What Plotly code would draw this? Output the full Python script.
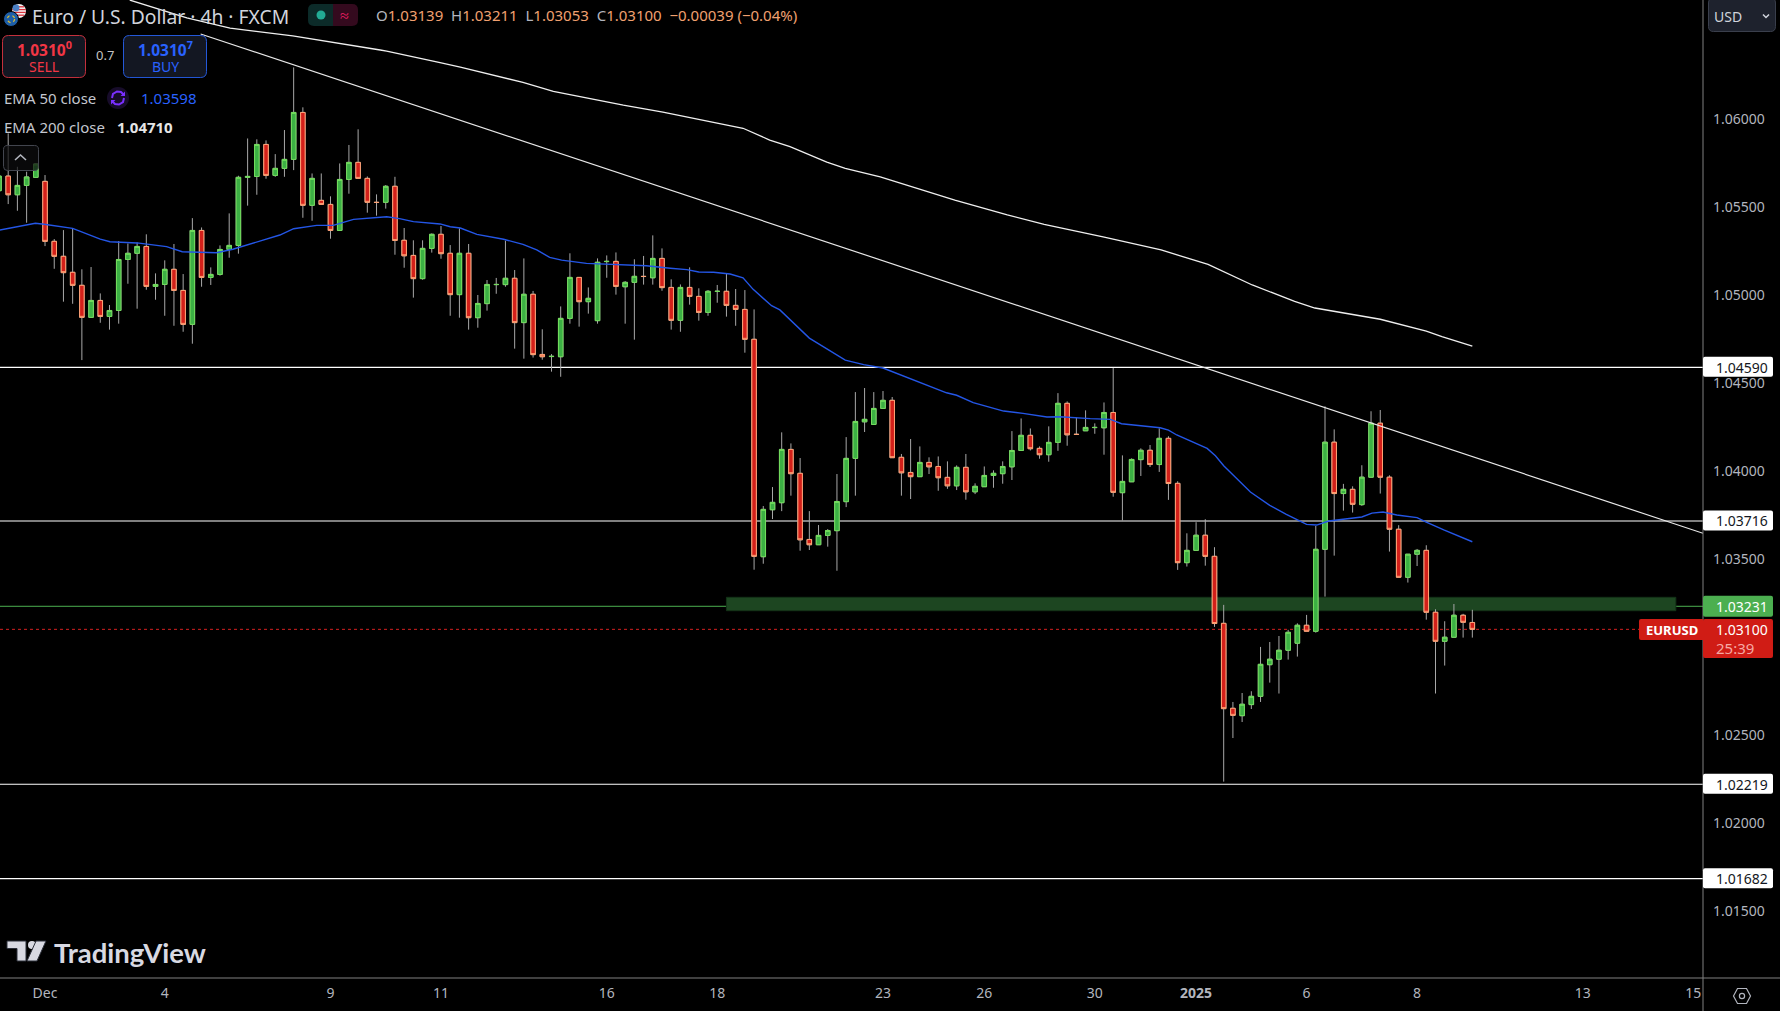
import plotly.graph_objects as go

# ---------- chart data (EUR/USD 4h candles) ----------
opens = [1.05594,1.05677,1.05571,1.05624,1.05670,1.05647,1.05306,1.05221,1.05130,1.05056,
1.04874,1.04970,1.04879,1.04913,1.05203,1.05238,1.05277,1.05050,1.05061,1.05147,
1.05027,1.04834,1.05368,1.05101,1.05118,1.05260,1.05283,1.05670,1.05675,1.05857,
1.05681,1.05721,1.05772,1.06039,1.05511,1.05539,1.05516,1.05368,1.05658,1.05755,
1.05664,1.05528,1.05528,1.05619,1.05312,1.05226,1.05094,1.05266,1.05346,1.05238,
1.05003,1.05238,1.04872,1.04952,1.05060,1.05060,1.05096,1.04844,1.05005,1.04663,
1.04651,1.04650,1.04868,1.05101,1.04963,1.04855,1.05191,1.05192,1.05048,1.05073,
1.05107,1.05099,1.05209,1.05044,1.04857,1.05044,1.04993,1.04902,1.05021,1.05022,
1.04942,1.04919,1.04749,1.03513,1.03780,1.03820,1.04123,1.03987,1.03611,1.03581,
1.03634,1.03661,1.03826,1.04072,1.04280,1.04265,1.04356,1.04402,1.04078,1.03992,
1.03968,1.04049,1.04026,1.03964,1.03916,1.04021,1.03882,1.03911,1.03975,1.03985,
1.04024,1.04117,1.04203,1.04129,1.04093,1.04163,1.04385,1.04209,1.04229,1.04247,
1.04246,1.04333,1.03877,1.03939,1.04065,1.04118,1.04037,1.04186,1.03930,1.03479,
1.03549,1.03635,1.03515,1.03134,1.02651,1.02609,1.02672,1.02719,1.02899,1.02930,
1.02981,1.03021,1.03123,1.03089,1.03555,1.04164,1.03872,1.03896,1.03809,1.03965,
1.04272,1.03965,1.03669,1.03396,1.03527,1.03549,1.03197,1.03032,1.03055,1.03180,1.03139]
highs = [1.05711,1.05920,1.05730,1.05702,1.05749,1.05683,1.05319,1.05370,1.05380,1.05147,
1.05160,1.05010,1.04944,1.05308,1.05294,1.05300,1.05346,1.05124,1.05198,1.05291,
1.05120,1.05438,1.05385,1.05158,1.05283,1.05465,1.05679,1.05891,1.05886,1.05880,
1.05802,1.05939,1.06295,1.06068,1.05692,1.05692,1.05562,1.05749,1.05854,1.05943,
1.05675,1.05573,1.05626,1.05673,1.05382,1.05312,1.05312,1.05351,1.05393,1.05285,
1.05380,1.05291,1.05001,1.05086,1.05098,1.05310,1.05143,1.05209,1.05024,1.04806,
1.04665,1.04936,1.05238,1.05101,1.05044,1.05209,1.05226,1.05243,1.05080,1.05204,
1.05223,1.05340,1.05266,1.05090,1.05061,1.05158,1.05039,1.05029,1.05058,1.05124,
1.05035,1.05029,1.04919,1.03801,1.03909,1.04220,1.04157,1.04074,1.03772,1.03693,
1.03670,1.03983,1.04193,1.04449,1.04472,1.04449,1.04455,1.04421,1.04097,1.04182,
1.04140,1.04078,1.04083,1.04055,1.04032,1.04097,1.03930,1.04026,1.04004,1.04055,
1.04227,1.04299,1.04242,1.04140,1.04254,1.04443,1.04396,1.04305,1.04345,1.04271,
1.04390,1.04586,1.04089,1.04072,1.04129,1.04148,1.04243,1.04198,1.03942,1.03646,
1.03709,1.03726,1.03567,1.03239,1.02687,1.02738,1.02748,1.03000,1.03028,1.03062,
1.03097,1.03134,1.03182,1.03688,1.04368,1.04237,1.03927,1.03913,1.04033,1.04340,
1.04347,1.03976,1.03692,1.03527,1.03557,1.03578,1.03214,1.03146,1.03244,1.03188,1.03211]
lows = [1.05541,1.05518,1.05480,1.05412,1.05670,1.05279,1.05150,1.04963,1.04951,1.04631,
1.04874,1.04843,1.04804,1.04838,1.05065,1.04923,1.05031,1.04974,1.04883,1.04826,
1.04792,1.04724,1.05048,1.05058,1.05111,1.05213,1.05236,1.05509,1.05571,1.05662,
1.05673,1.05673,1.05711,1.05440,1.05423,1.05516,1.05321,1.05368,1.05577,1.05664,
1.05469,1.05452,1.05492,1.05230,1.05156,1.04986,1.05088,1.05242,1.05207,1.04883,
1.04872,1.04804,1.04815,1.04912,1.05008,1.05048,1.04696,1.04639,1.04645,1.04633,
1.04565,1.04536,1.04838,1.04821,1.04895,1.04838,1.05099,1.05003,1.04838,1.04747,
1.05060,1.05060,1.05025,1.04804,1.04792,1.04946,1.04855,1.04883,1.04957,1.04878,
1.04826,1.04673,1.03439,1.03473,1.03727,1.03772,1.03860,1.03547,1.03551,1.03581,
1.03570,1.03433,1.03795,1.03860,1.04222,1.04265,1.04356,1.04076,1.03860,1.03841,
1.03968,1.03983,1.03888,1.03899,1.03892,1.03837,1.03869,1.03911,1.03905,1.03928,
1.03949,1.04117,1.04117,1.04070,1.04053,1.04115,1.04144,1.04206,1.04229,1.04212,
1.04093,1.03854,1.03719,1.03939,1.03972,1.04023,1.03995,1.03836,1.03438,1.03457,
1.03549,1.03462,1.03114,1.02234,1.02482,1.02573,1.02647,1.02687,1.02797,1.02735,
1.02928,1.02945,1.03089,1.03081,1.03286,1.03519,1.03775,1.03764,1.03802,1.03965,
1.03872,1.03542,1.03396,1.03366,1.03460,1.03155,1.02735,1.02894,1.03055,1.03053,1.03053]
closes = [1.05677,1.05571,1.05624,1.05672,1.05746,1.05306,1.05221,1.05128,1.05056,1.04874,
1.04970,1.04879,1.04913,1.05203,1.05238,1.05277,1.05050,1.05061,1.05147,1.05027,
1.04834,1.05368,1.05101,1.05118,1.05260,1.05283,1.05670,1.05675,1.05857,1.05681,
1.05721,1.05772,1.06039,1.05511,1.05664,1.05516,1.05368,1.05658,1.05755,1.05664,
1.05528,1.05527,1.05619,1.05311,1.05224,1.05094,1.05266,1.05346,1.05236,1.05003,
1.05238,1.04872,1.04953,1.05061,1.05061,1.05096,1.04844,1.05005,1.04662,1.04650,
1.04652,1.04868,1.05101,1.04963,1.04982,1.05187,1.05192,1.05050,1.05073,1.05107,
1.05106,1.05209,1.05043,1.04857,1.05044,1.04993,1.04902,1.05022,1.05022,1.04942,
1.04919,1.04749,1.03515,1.03782,1.03822,1.04123,1.03985,1.03609,1.03581,1.03634,
1.03662,1.03827,1.04072,1.04282,1.04294,1.04356,1.04402,1.04076,1.03990,1.03968,
1.04049,1.04024,1.03962,1.03916,1.04021,1.03882,1.03913,1.03975,1.03987,1.04026,
1.04117,1.04203,1.04127,1.04093,1.04163,1.04385,1.04206,1.04208,1.04248,1.04248,
1.04333,1.03879,1.03941,1.04066,1.04118,1.04037,1.04186,1.03929,1.03479,1.03549,
1.03635,1.03515,1.03133,1.02649,1.02611,1.02674,1.02719,1.02901,1.02930,1.02981,
1.03083,1.03123,1.03089,1.03555,1.04164,1.03872,1.03896,1.03811,1.03965,1.04272,
1.03965,1.03669,1.03396,1.03527,1.03549,1.03197,1.03032,1.03055,1.03180,1.03140,1.03100]
bars = list(range(len(closes)))

ema50_bar = [0,3.95,4.9,8,11,12.05,15,18.2,19.9,23.6,25.4,28,30.5,32,34.5,36.3,38.5,42.1,43.5,45,47.9,49,50.1,51.9,54.8,56.9,58.4,59.8,61.1,63.8,66.7,70.3,72.9,74.7,76,77.6,79.4,80.8,81.9,83.9,84.8,88,91.9,93.9,96,97.9,100.7,102.9,104,105.8,109.1,111.2,113.8,115.2,118.5,120.7,121.9,123.9,125,126.1,127,127.9,131.2,132.1,133,135.9,138,139.8,142,143.1,144.4,146.7,148,149.1,150.3,151.8,154,155,156.9,160]
ema50 = [1.05369,1.05409,1.05403,1.05380,1.05319,1.05304,1.05297,1.05276,1.05247,1.05241,1.05261,1.05301,1.05342,1.05378,1.05397,1.05397,1.05431,1.05446,1.05435,1.05418,1.05405,1.05389,1.05382,1.05346,1.05318,1.05289,1.05257,1.05215,1.05199,1.05181,1.05175,1.05167,1.05153,1.05145,1.05132,1.05130,1.05120,1.05099,1.05033,1.04940,1.04916,1.04756,1.04631,1.04605,1.04586,1.04546,1.04489,1.04445,1.04431,1.04389,1.04341,1.04328,1.04307,1.04309,1.04298,1.04294,1.04269,1.04258,1.04249,1.04246,1.04233,1.04205,1.04129,1.04087,1.04030,1.03881,1.03805,1.03754,1.03697,1.03693,1.03716,1.03729,1.03739,1.03761,1.03767,1.03750,1.03735,1.03710,1.03665,1.03598]
ema200_bar = [14.2,20.4,25.1,31.9,41.4,42.1,47.9,50.1,56.9,60.2,67.8,72.1,80.8,83.7,85.9,89.9,91.9,95.7,103.8,109.5,113.5,119.9,126.2,131.3,136.1,140.7,142.9,150,155,156.7,160]
ema200 = [1.06678,1.06576,1.06519,1.06474,1.06394,1.06388,1.06322,1.06296,1.06210,1.06159,1.06080,1.06041,1.05949,1.05882,1.05844,1.05757,1.05721,1.05672,1.05541,1.05456,1.05403,1.05332,1.05257,1.05175,1.05058,1.04965,1.04927,1.04863,1.04796,1.04764,1.04710]
trend_bar = [21.9,185.05]
trend_price = [1.06485,1.03646]

level_prices = [1.04590,1.03716,1.02219,1.01682]
level_labels = ["1.04590","1.03716","1.02219","1.01682"]
support_price = 1.03231
zone_bars = [79,182.1]
zone_prices = [1.03206,1.03282]
last_price = 1.03100

y_ticks = [1.015,1.02,1.025,1.035,1.04,1.045,1.05,1.055,1.06]
y_labels = ["1.01500","1.02000","1.02500","1.03500","1.04000","1.04500","1.05000","1.05500","1.06000"]
x_ticks = [5,18,36,48,66,78,96,107,119,130,142,154,172,184]
x_labels = ["Dec","4","9","11","16","18","23","26","30","<b>2025</b>","6","8","13","15"]

# ---------- layout geometry ----------
W, H = 1780, 1011
PW, PH = 1703, 978
FONT = "Noto Sans"
shapes, notes = [], []

def px(x): return x / PW
def py(y): return 1 - y / PH

def path(points, fill=None, line=None, lw=1, close=True, layer="above"):
    d = "M%.5f,%.5f" % (px(points[0][0]), py(points[0][1]))
    for p in points[1:]:
        d += " L%.5f,%.5f" % (px(p[0]), py(p[1]))
    if close:
        d += " Z"
    shapes.append(dict(type="path", xref="paper", yref="paper", path=d, layer=layer,
                       fillcolor=fill if fill else "rgba(0,0,0,0)",
                       line=dict(color=line if line else "rgba(0,0,0,0)", width=lw if line else 0)))

def rrect(x0, y0, x1, y1, r, fill, line=None, lw=1, sides="all"):
    X0, X1, Y0, Y1 = px(x0), px(x1), py(y0), py(y1)
    rx, ry = r / PW, r / PH
    rl = rx if sides in ("all", "left") else 0
    rr = rx if sides in ("all", "right") else 0
    rly, rry = (ry if rl else 0), (ry if rr else 0)
    d = (f"M{X0+rl:.5f},{Y0:.5f} L{X1-rr:.5f},{Y0:.5f} Q{X1:.5f},{Y0:.5f} {X1:.5f},{Y0-rry:.5f} "
         f"L{X1:.5f},{Y1+rry:.5f} Q{X1:.5f},{Y1:.5f} {X1-rr:.5f},{Y1:.5f} L{X0+rl:.5f},{Y1:.5f} "
         f"Q{X0:.5f},{Y1:.5f} {X0:.5f},{Y1+rly:.5f} L{X0:.5f},{Y0-rly:.5f} Q{X0:.5f},{Y0:.5f} {X0+rl:.5f},{Y0:.5f} Z")
    shapes.append(dict(type="path", xref="paper", yref="paper", path=d, layer="above", fillcolor=fill,
                       line=dict(color=line if line else "rgba(0,0,0,0)", width=lw if line else 0)))

def circle(cx, cy, r, fill, line=None, lw=1, dash=None):
    ln = dict(color=line if line else "rgba(0,0,0,0)", width=lw if line else 0)
    if dash:
        ln["dash"] = dash
    shapes.append(dict(type="circle", xref="paper", yref="paper", layer="above",
                       x0=px(cx - r), x1=px(cx + r), y0=py(cy + r), y1=py(cy - r),
                       fillcolor=fill, line=ln))

def txt(x, y, s, size=14, color="#d1d4dc", anchor="left", family=FONT):
    notes.append(dict(xref="paper", yref="paper", x=px(x), y=py(y), text=s, showarrow=False,
                      xanchor=anchor, yanchor="middle", borderpad=0,
                      font=dict(size=size, color=color, family=family)))

# ---------- horizontal levels and support zone (behind the candles) ----------
for p in level_prices:
    shapes.append(dict(type="line", xref="paper", yref="y", x0=0, x1=1, y0=p, y1=p, layer="below",
                       line=dict(color="#ffffff", width=1.2)))
shapes.append(dict(type="rect", xref="x", yref="y", x0=zone_bars[0], x1=zone_bars[1], y0=zone_prices[0], y1=zone_prices[1],
                   layer="below", fillcolor="#1d4621", line=dict(color="#143318", width=1)))
shapes.append(dict(type="line", xref="paper", yref="y", x0=0, x1=1, y0=support_price, y1=support_price, layer="below",
                   line=dict(color="#4caf50", width=1)))
shapes.append(dict(type="line", xref="paper", yref="y", x0=0, x1=1639/PW, y0=last_price, y1=last_price, layer="below",
                   line=dict(color="#d42020", width=1, dash="dot")))

# ---------- scale frame running to the window edges ----------
path([(1703, 0), (1703, 1011)], line="#808080", lw=1, close=False)
path([(0, 978), (1780, 978)], line="#808080", lw=1, close=False)

# ---------- price-scale tags ----------
def ptop(p): return (1.066783 - p) * 17587
for p, lab in zip(level_prices, level_labels):
    yc = ptop(p) - 0.5
    rrect(1703, yc - 10, 1773, yc + 10, 2, "#ffffff")
    txt(1715, yc + 0.5, lab, 14, "#131722")
yc = ptop(support_price)
rrect(1703, yc - 10.5, 1773, yc + 10.5, 2, "#4caf50")
txt(1715, yc + 0.5, "1.03231", 14, "#ffffff")
rrect(1703, 619, 1773, 658, 2, "#d01c15")
txt(1715, 629.5, "1.03100", 14, "#ffffff")
txt(1715, 648, "25:39", 15, "#f6a9a4")
rrect(1639, 619, 1703, 640, 2, "#d01c15", sides="left")
txt(1645, 630, "<b>EURUSD</b>", 13, "#ffffff")

# ---------- legend block ----------
circle(19, 11, 7, "#f4f4f4")
for dy, half in ((-4.2, 5.2), (-1.4, 6.8), (1.4, 6.8), (4.2, 5.2)):
    path([(19 - half, 11 + dy), (19 + half, 11 + dy)], line="#d8323c", lw=1.3, close=False)
circle(16, 8, 3.4, "#4a7fc4")
circle(11, 19, 7.5, "#1f5fa8", line="#000000", lw=1)
circle(11, 19, 3.6, "rgba(0,0,0,0)", line="#e6c228", lw=1.2, dash="dot")
txt(31, 16, "Euro / U.S. Dollar · 4h · FXCM", 19.3, "#d1d4dc")

rrect(308, 4, 333, 26, 6, "#0c2b29", sides="left")
rrect(333, 4, 358, 26, 6, "#340a1e", sides="right")
circle(321, 15, 4.5, "#22ab94")
txt(344.5, 15, "≈", 16, "#e91e63", "center")

G = "#b2b5be"
O = "#f0a070"
SP = "&nbsp;&nbsp;"
ohlc = (f'<span style="color:{G}">O</span>1.03139{SP}<span style="color:{G}">H</span>1.03211{SP}'
        f'<span style="color:{G}">L</span>1.03053{SP}<span style="color:{G}">C</span>1.03100{SP}−0.00039 (−0.04%)')
txt(375, 15, ohlc, 15, O)

rrect(2.5, 35.5, 85.5, 77.5, 6, "#131722", line="#c4303c", lw=1)
rrect(123.5, 35.5, 206.5, 77.5, 6, "#131722", line="#2458d8", lw=1)
txt(44, 49, "<b>1.0310<sup>0</sup></b>", 15.5, "#f23645", "center")
txt(44, 66, "SELL", 14, "#f23645", "center")
txt(105, 55, "0.7", 13, "#c4c4c4", "center")
txt(165, 49, "<b>1.0310<sup>7</sup></b>", 15.5, "#2962ff", "center")
txt(165, 66, "BUY", 14, "#2962ff", "center")

txt(3, 98, "EMA 50 close", 15, "#c4c7cf")
circle(118, 98, 11, "#170c2a")
path([(112, 98), (113, 94), (117, 91.5), (121, 92), (124, 95)], line="#7a2fff", lw=2, close=False)
path([(124, 98), (123, 102), (119, 104.5), (115, 104), (112, 101)], line="#7a2fff", lw=2, close=False)
path([(125, 91.5), (125, 96), (120.5, 96)], fill="#7a2fff")
path([(111, 104.5), (111, 100), (115.5, 100)], fill="#7a2fff")
txt(140, 98, "1.03598", 15, "#2962ff")
txt(3, 127, "EMA 200 close", 15, "#c4c7cf")
txt(116, 127, "<b>1.04710</b>", 15, "#e6e6e6")

rrect(3.5, 145.5, 38.5, 170.5, 4, "rgba(12,12,14,0.72)", line="#43464f", lw=1)
path([(15, 160), (20.5, 155), (26, 160)], line="#b2b5be", lw=1.6, close=False)

# ---------- currency menu, settings icon ----------
rrect(1708.5, -2, 1775.5, 31.5, 5, "#1e222d", line="#3a3f4c", lw=1)
txt(1713, 16, "USD", 14, "#d1d4dc")
path([(1763, 14.5), (1766, 17.5), (1769, 14.5)], line="#d1d4dc", lw=1.5, close=False)
path([(1733.5, 996), (1737.5, 988.5), (1746.5, 988.5), (1750.5, 996), (1746.5, 1003.5), (1737.5, 1003.5)], line="#b2b5be", lw=1.2)
circle(1742, 996, 2.6, "rgba(0,0,0,0)", line="#b2b5be", lw=1.2)

# ---------- TradingView mark ----------
MARK = "#d8d9e2"
path([(7, 941), (26, 941), (26, 961), (17, 961), (17, 948.5), (7, 948.5)], fill=MARK, line="#2a2e39", lw=1)
circle(32, 945, 4, MARK)
path([(36, 941), (46, 941), (37, 961), (27, 961)], fill=MARK, line="#2a2e39", lw=1)
txt(53, 952, "<b>TradingView</b>", 27.5, MARK, family="Lato")

# ---------- traces ----------
fig = go.Figure()
fig.add_trace(go.Scatter(x=ema50_bar, y=ema50, mode="lines", line=dict(color="#2456e6", width=1.4), hoverinfo="skip"))
fig.add_trace(go.Scatter(x=ema200_bar, y=ema200, mode="lines", line=dict(color="#efefef", width=1.3), hoverinfo="skip"))
fig.add_trace(go.Scatter(x=trend_bar, y=trend_price, mode="lines", line=dict(color="#e8e8e8", width=1.2), hoverinfo="skip"))
fig.add_trace(go.Candlestick(x=bars, open=opens, high=highs, low=lows, close=closes,
                             increasing=dict(line=dict(color="#a8a8a8", width=1), fillcolor="rgba(0,0,0,0)"),
                             decreasing=dict(line=dict(color="#a8a8a8", width=1), fillcolor="rgba(0,0,0,0)"),
                             hoverinfo="skip"))
body_top = [max(o, c) for o, c in zip(opens, closes)]
body_bot = [min(o, c) for o, c in zip(opens, closes)]
fig.add_trace(go.Candlestick(x=bars, open=opens, high=body_top, low=body_bot, close=closes,
                             increasing=dict(line=dict(color="#72dd5c", width=1), fillcolor="#3cb044"),
                             decreasing=dict(line=dict(color="#ffa274", width=1), fillcolor="#d3201a"),
                             hoverinfo="skip"))

fig.update_layout(
    width=W, height=H, showlegend=False, paper_bgcolor="#000000", plot_bgcolor="#000000",
    margin=dict(l=0, r=W - PW, t=0, b=H - PH, pad=0), boxmode="overlay",
    shapes=shapes, annotations=notes,
    xaxis=dict(range=[0.11, 185.05], autorange=False, rangeslider=dict(visible=False), showgrid=False, zeroline=False,
               tickmode="array", tickvals=x_ticks, ticktext=x_labels, ticks="", ticklabelstandoff=5,
               tickfont=dict(family=FONT, size=14, color="#b2b5be"), showline=False),
    yaxis=dict(range=[1.011175, 1.066783], autorange=False, side="right", showgrid=False, zeroline=False,
               tickmode="array", tickvals=y_ticks, ticktext=y_labels, ticks="", ticklabelstandoff=9,
               tickfont=dict(family=FONT, size=14, color="#b2b5be"), showline=False),
)

fig.write_html("out.html", config=dict(displayModeBar=False),
               post_script="document.body.style.margin='0';document.body.style.background='#000';document.documentElement.style.overflow='hidden';")
